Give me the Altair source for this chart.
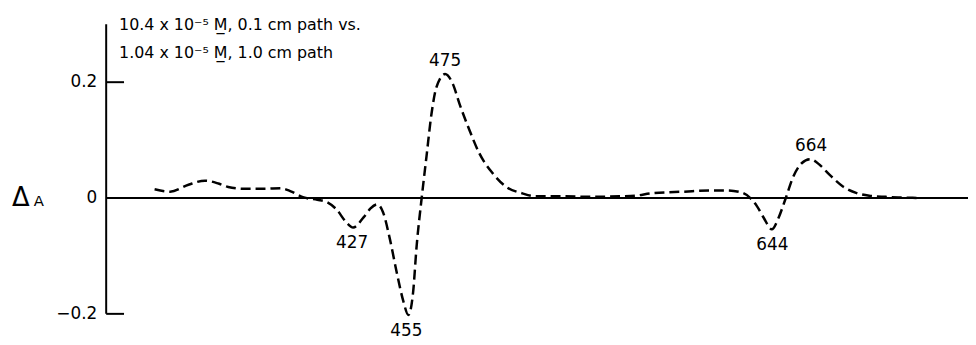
import altair as alt
import pandas as pd

# ---- data ----
wavelength = [325, 333, 342.5, 351, 358, 363, 371.5, 382, 390, 395,
              402, 409, 414, 419, 424, 427.5, 433, 436.5, 440, 443,
              446.5, 450, 453.5, 456, 458.5, 460.3, 462.8, 465.4, 468, 470.5,
              475, 479, 482.4, 487.6, 492.7, 499.5, 506.3, 514.9, 521.7, 535,
              550, 565, 573, 581.4, 598.5, 612, 620, 627.5, 632.6, 636,
              639.5, 643.7, 647.2, 650.6, 654.8, 659.1, 663.5, 668.5, 673.6, 680.4,
              687.2, 694, 702.6, 710, 720]
delta_a = [0.015, 0.011, 0.023, 0.030, 0.025, 0.019, 0.016, 0.016, 0.017, 0.012,
           0.001, -0.003, -0.007, -0.020, -0.042, -0.051, -0.033, -0.018, -0.011, -0.025,
           -0.071, -0.128, -0.179, -0.202, -0.162, -0.083, -0.003, 0.072, 0.146, 0.191,
           0.214, 0.197, 0.163, 0.117, 0.077, 0.043, 0.020, 0.008, 0.003, 0.003,
           0.002, 0.003, 0.004, 0.008, 0.011, 0.013, 0.013, 0.010, 0.000, -0.014,
           -0.034, -0.054, -0.034, -0.003, 0.037, 0.060, 0.067, 0.057, 0.040, 0.020,
           0.009, 0.004, 0.002, 0.001, 0.000]

peak_nm_above = [475, 664]
peak_val_above = [0.214, 0.067]
peak_nm_below = [427, 455, 644]
peak_val_below = [-0.051, -0.202, -0.054]

tick_values = [0.2, 0, -0.2]
tick_labels = ["0.2", "0", "\u22120.2"]
tick_marks = [0.2, -0.2]

header_lines = ["10.4 x 10\u207b\u2075 M\u0332, 0.1 cm  path  vs.",
                "1.04 x 10\u207b\u2075 M\u0332, 1.0 cm path"]

x_domain = [300, 745]
y_domain = [-0.2, 0.3]
FONT = "DejaVu Sans"

xs = alt.Scale(domain=x_domain, nice=False, zero=False)
ys = alt.Scale(domain=y_domain, nice=False, zero=False)

one = pd.DataFrame({"k": [0]})

curve = alt.Chart(pd.DataFrame({"nm": wavelength, "dA": delta_a})).mark_line(
    color="black", strokeWidth=2.5, strokeDash=[10, 5], interpolate="monotone"
).encode(
    x=alt.X("nm:Q", scale=xs, axis=None),
    y=alt.Y("dA:Q", scale=ys, axis=None),
)

zero_line = alt.Chart(one).mark_rule(color="black", strokeWidth=2).encode(
    y=alt.Y(datum=0, scale=ys, axis=None),
    x=alt.X(datum=x_domain[0], scale=xs, axis=None),
    x2=alt.datum(x_domain[1]),
)

axis_line = alt.Chart(one).mark_rule(color="black", strokeWidth=2).encode(
    x=alt.X(datum=x_domain[0], scale=xs, axis=None),
    y=alt.Y(datum=y_domain[0], scale=ys, axis=None),
    y2=alt.datum(y_domain[1]),
)

ticks = alt.Chart(pd.DataFrame({"v": tick_marks})).mark_rule(
    color="black", strokeWidth=2
).encode(
    y=alt.Y("v:Q", scale=ys, axis=None),
    x=alt.value(0),
    x2=alt.value(18),
)

tick_text = alt.Chart(pd.DataFrame({"v": tick_values, "t": tick_labels})).mark_text(
    align="right", baseline="middle", dx=-9, fontSize=17, font=FONT, color="black"
).encode(
    y=alt.Y("v:Q", scale=ys, axis=None),
    x=alt.value(0),
    text="t:N",
)

above = alt.Chart(pd.DataFrame({"nm": peak_nm_above, "v": peak_val_above,
                                "t": [str(n) for n in peak_nm_above]})).mark_text(
    align="center", baseline="middle", dy=-13, fontSize=17, font=FONT, color="black"
).encode(
    x=alt.X("nm:Q", scale=xs, axis=None),
    y=alt.Y("v:Q", scale=ys, axis=None),
    text="t:N",
)

below = alt.Chart(pd.DataFrame({"nm": peak_nm_below, "v": peak_val_below,
                                "t": [str(n) for n in peak_nm_below]})).mark_text(
    align="center", baseline="middle", dy=16, fontSize=17, font=FONT, color="black"
).encode(
    x=alt.X("nm:Q", scale=xs, axis=None),
    y=alt.Y("v:Q", scale=ys, axis=None),
    text="t:N",
)

head1 = alt.Chart(pd.DataFrame({"t": [header_lines[0]]})).mark_text(
    align="left", baseline="middle", fontSize=16, font=FONT, color="black"
).encode(x=alt.value(13), y=alt.value(1), text="t:N")

head2 = alt.Chart(pd.DataFrame({"t": [header_lines[1]]})).mark_text(
    align="left", baseline="middle", fontSize=16, font=FONT, color="black"
).encode(x=alt.value(13), y=alt.value(29), text="t:N")

delta = alt.Chart(pd.DataFrame({"t": ["\u0394"]})).mark_text(
    align="center", baseline="alphabetic", dy=8, fontSize=26, font=FONT, color="black"
).encode(x=alt.value(-86), y=alt.Y(datum=0, scale=ys, axis=None), text="t:N")

a_lbl = alt.Chart(pd.DataFrame({"t": ["A"]})).mark_text(
    align="center", baseline="alphabetic", dy=8, fontSize=15, font=FONT, color="black"
).encode(x=alt.value(-68), y=alt.Y(datum=0, scale=ys, axis=None), text="t:N")

chart = alt.layer(
    zero_line, axis_line, ticks, curve, tick_text, above, below, head1, head2, delta, a_lbl
).properties(
    width=869,
    height=292,
    autosize=alt.AutoSizeParams(type="none"),
    padding={"left": 99, "top": 15, "right": 0, "bottom": 30},
    background="white",
).configure_view(stroke=None)

chart.save("out.html", embed_options={"renderer": "svg", "actions": False})
